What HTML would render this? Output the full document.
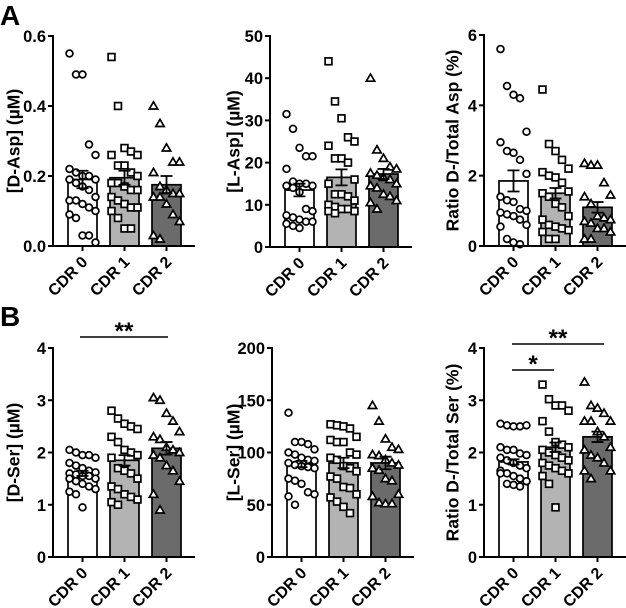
<!DOCTYPE html>
<html><head><meta charset="utf-8"><style>
html,body{margin:0;padding:0;background:#fff;}
svg{display:block;font-family:"Liberation Sans",Arial,sans-serif;}
</style></head><body>
<svg id="fig" width="626" height="608" viewBox="0 0 626 608">
<text x="0" y="25" font-size="28" font-weight="bold">A</text>
<text x="0" y="326" font-size="28" font-weight="bold">B</text>
</svg>
<script>
const categories = ["CDR 0","CDR 1","CDR 2"];
const dAspMeans=[0.19,0.195,0.175], dAspSem=[0.025,0.02,0.025];
const dAsp0=[0.55,0.49,0.49,0.29,0.26,0.22,0.21,0.2,0.2,0.19,0.19,0.18,0.17,0.16,0.14,0.13,0.13,0.12,0.11,0.1,0.09,0.08,0.03,0.03,0.01];
const dAsp1=[0.54,0.40,0.28,0.27,0.26,0.26,0.23,0.23,0.21,0.2,0.18,0.18,0.17,0.16,0.16,0.14,0.13,0.12,0.11,0.11,0.1,0.08,0.05,0.05];
const dAsp2=[0.40,0.35,0.28,0.24,0.24,0.21,0.17,0.16,0.15,0.15,0.14,0.14,0.12,0.09,0.07,0.03,0.02];
const lAspMeans=[13.5,16.5,17.3], lAspSem=[1.5,1.9,1.2];
const lAsp0=[31.5,28,23.5,21.5,21.5,18.5,15.5,15,15,14.5,14.5,14,13,9,8.5,7.5,7,6.5,6,6,5.5,5,4.5];
const lAsp1=[44,34.5,30.5,26,25,24,21,21,20,16,15,12.5,12.5,12,11,10,9.5,9,9,8.5,8.5,8];
const lAsp2=[40,23,21,19,18.5,17.5,17,16.5,16,15,14.5,14,12.5,12,11,10.5,9];
const rAspMeans=[1.85,1.5,1.1], rAspSem=[0.3,0.15,0.15];
const rAsp0=[5.6,4.55,4.3,4.2,3.25,2.95,2.7,2.65,2.45,2.05,1.4,1.3,1.25,1.05,1.0,0.95,0.9,0.85,0.75,0.6,0.55,0.2,0.1,0.05];
const rAsp1=[4.45,2.9,2.7,2.45,2.2,2.1,2.0,1.95,1.8,1.55,1.5,1.4,1.2,1.1,0.85,0.75,0.6,0.55,0.5,0.45,0.4,0.2,0.2];
const rAsp2=[2.35,2.3,2.3,1.8,1.45,1.4,1.2,0.85,0.8,0.75,0.7,0.65,0.5,0.5,0.4,0.2,0.2];
const dSerMeans=[1.6,1.85,2.08], dSerSem=[0.05,0.1,0.12];
const dSer0=[2.05,2.0,1.95,1.95,1.9,1.8,1.75,1.7,1.65,1.62,1.6,1.58,1.55,1.55,1.5,1.5,1.45,1.4,1.35,1.3,1.25,1.2,0.95];
const dSer1=[2.8,2.65,2.55,2.5,2.45,2.3,2.2,2.05,2.0,1.95,1.9,1.7,1.65,1.6,1.5,1.35,1.3,1.2,1.15,1.1,1.05,1.0];
const dSer2=[3.05,3.0,2.75,2.6,2.4,2.3,2.25,2.1,2.05,2.0,1.95,1.9,1.75,1.65,1.45,1.2,0.9];
const lSerMeans=[89,90,90], lSerSem=[3,5,6];
const lSer0=[138,110,110,108,103,100,98,95,93,92,90,88,87,86,85,75,73,70,62,60,58,50];
const lSer1=[127,126,125,123,115,112,110,110,100,98,95,93,87,85,82,77,75,67,66,60,57,53,48,42];
const lSer2=[145,130,113,105,103,98,97,93,90,88,85,83,75,73,60,58,52,51,51];
const rSerMeans=[1.82,2.1,2.3], rSerSem=[0.05,0.09,0.1];
const rSer0=[2.55,2.52,2.5,2.5,2.52,2.1,2.05,2.05,1.98,1.95,1.9,1.85,1.8,1.75,1.7,1.65,1.6,1.55,1.5,1.45,1.6,1.4,1.38,1.35,1.45];
const rSer1=[3.3,3.02,2.9,2.9,2.8,2.6,2.4,2.2,2.15,2.1,2.05,2.0,1.95,1.9,1.85,1.8,1.75,1.7,1.65,1.6,1.55,1.4,0.95];
const rSer2=[3.35,2.9,2.85,2.75,2.6,2.6,2.6,2.4,2.3,2.1,2.05,1.95,1.9,1.8,1.65,1.65,1.5];
const ticksDAsp=["0.0","0.2","0.4","0.6"], ticksLAsp=["0","10","20","30","40","50"], ticksR6=["0","2","4","6"];
const ticks4=["0","1","2","3","4"], ticksLSer=["0","50","100","150","200"];

const NS="http://www.w3.org/2000/svg";
const svg=document.getElementById('fig');
const fills=["#ffffff","#b3b3b3","#6b6b6b"];
function mk(tag,attrs,parent){const e=document.createElementNS(NS,tag);for(const k in attrs)e.setAttribute(k,attrs[k]);(parent||svg).appendChild(e);return e;}

const panels=[
 {id:'d-asp',ax:53,top:36,bot:246,max:0.6,ticks:ticksDAsp,title:'[D-Asp]  (\u00b5M)',tx:15,means:dAspMeans,sem:dAspSem,pts:[dAsp0,dAsp1,dAsp2]},
 {id:'l-asp',ax:270,top:36,bot:247,max:50,ticks:ticksLAsp,title:'[L-Asp]  (\u00b5M)',tx:235,means:lAspMeans,sem:lAspSem,pts:[lAsp0,lAsp1,lAsp2]},
 {id:'ratio-asp',ax:484,top:35,bot:246,max:6,ticks:ticksR6,title:'Ratio D-/Total Asp (%)',tx:454,means:rAspMeans,sem:rAspSem,pts:[rAsp0,rAsp1,rAsp2]},
 {id:'d-ser',ax:53,top:348,bot:557,max:4,ticks:ticks4,title:'[D-Ser]  (\u00b5M)',tx:15,means:dSerMeans,sem:dSerSem,pts:[dSer0,dSer1,dSer2]},
 {id:'l-ser',ax:272,top:348,bot:557,max:200,ticks:ticksLSer,title:'[L-Ser]  (\u00b5M)',tx:235,means:lSerMeans,sem:lSerSem,pts:[lSer0,lSer1,lSer2]},
 {id:'ratio-ser',ax:484,top:348,bot:557,max:4,ticks:ticks4,title:'Ratio D-/Total Ser (%)',tx:454,means:rSerMeans,sem:rSerSem,pts:[rSer0,rSer1,rSer2]}
];

function marker(g,shape,cx,cy){
  let e;
  if(shape===0) e=mk('circle',{cx:cx,cy:cy,r:3.4,fill:'#fff',stroke:'#000','stroke-width':1.7},g);
  else if(shape===1) e=mk('rect',{x:cx-3.4,y:cy-3.4,width:6.8,height:6.8,fill:'#fff',stroke:'#000','stroke-width':1.7},g);
  else e=mk('polygon',{points:`${cx},${cy-4.2} ${cx-4.2},${cy+3} ${cx+4.2},${cy+3}`,fill:'#fff',stroke:'#000','stroke-width':1.7},g);
  
  
}

panels.forEach(p=>{
  const g=mk('g',{});
  
  
  const y=v=>p.bot-(v/p.max)*(p.bot-p.top);
  const bx=i=>p.ax+15+i*42;
  const bw=29;
  p.means.forEach((m,i)=>{
    const r=mk('rect',{x:bx(i),y:y(m),width:bw,height:p.bot-y(m),fill:fills[i],stroke:'#000','stroke-width':1.7},g);
    
    
  });
  p.pts.forEach((arr,i)=>{
    const c=bx(i)+bw/2;
    arr.forEach((v,j)=>{const off=((j%5)-2)*6.5;marker(g,i,c+off,y(v));});
  });
  p.means.forEach((m,i)=>{
    const c=bx(i)+bw/2;
    const e=mk('path',{d:`M${c},${y(m-p.sem[i])}V${y(m+p.sem[i])}M${c-6},${y(m+p.sem[i])}H${c+6}M${c-6},${y(m-p.sem[i])}H${c+6}`,stroke:'#000','stroke-width':1.8,fill:'none'},g);
    
    
  });
  const end=p.ax+15+2*42+bw+14;
  const ya=mk('line',{x1:p.ax,y1:p.top-1,x2:p.ax,y2:p.bot,stroke:'#000','stroke-width':2},g);
  
  
  const xa=mk('line',{x1:p.ax-5,y1:p.bot,x2:Math.min(end,626),y2:p.bot,stroke:'#000','stroke-width':2},g);
  
  
  p.ticks.forEach((t,k)=>{
    const v=k*p.max/(p.ticks.length-1);
    mk('line',{x1:p.ax-5,y1:y(v),x2:p.ax,y2:y(v),stroke:'#000','stroke-width':2},g);
    const tt=mk('text',{x:p.ax-7,y:y(v)+6,'text-anchor':'end','font-size':16.5,'font-weight':'bold'},g);
    tt.textContent=t;
    
    
  });
  categories.forEach((c,i)=>{
    const cx=bx(i)+bw/2;
    mk('line',{x1:cx,y1:p.bot,x2:cx,y2:p.bot+5,stroke:'#000','stroke-width':2},g);
    const t=mk('text',{x:cx+6,y:p.bot+17,'text-anchor':'end','font-size':16,'font-weight':'bold',transform:`rotate(-45 ${cx+6} ${p.bot+17})`},g);
    t.textContent=c;
    
    
  });
  const cy=(p.top+p.bot)/2;
  const ti=mk('text',{x:p.tx,y:cy,'text-anchor':'middle','font-size':17.5,'font-weight':'bold',transform:`rotate(-90 ${p.tx} ${cy})`,'dominant-baseline':'middle'},g);
  ti.textContent=p.title;
  
  
});

function sig(x1,x2,yy,label){
  const l=mk('line',{x1:x1,y1:yy,x2:x2,y2:yy,stroke:'#000','stroke-width':1.5});
  
  
  const t=mk('text',{x:(x1+x2)/2,y:yy+2,'text-anchor':'middle','font-size':24,'font-weight':'bold'});
  t.textContent=label;
  
  
}
sig(80,168,337,'**');
sig(512,604,344,'**');
sig(512,554,370,'*');
</script>
</body></html>
